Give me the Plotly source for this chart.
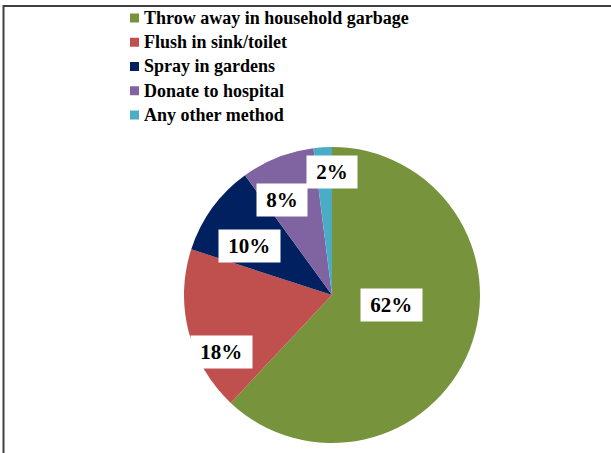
import math
import plotly.graph_objects as go

labels = ["Throw away in household garbage", "Flush in sink/toilet", "Spray in gardens",
          "Donate to hospital", "Any other method"]
values = [62, 18, 10, 8, 2]
colors = ["#77933C", "#C0504D", "#002060", "#8064A2", "#4BACC6"]
# value-label placement: radial fraction of radius, angular fraction within slice
label_r = [0.41, 0.843, 0.651, 0.726, 0.83]
label_a = [0.446, 0.30, 0.35, 0.285, 1.0]

W, H = 611, 453
cx, cy, R = 332, 295, 148  # pie centre and radius in pixels
SERIF = "Times New Roman, Liberation Serif, serif"

fig = go.Figure()
fig.add_trace(go.Pie(
    labels=labels, values=values, sort=False, direction="clockwise", rotation=0,
    marker=dict(colors=colors, line=dict(width=0)),
    textinfo="none", hoverinfo="label+percent", showlegend=False,
    domain=dict(x=[(cx - R) / W, (cx + R) / W], y=[(H - cy - R) / H, (H - cy + R) / H]),
))

total = sum(values)
cum = 0
for v, fr, fa in zip(values, label_r, label_a):
    ang = (cum + v * fa) / total * 2 * math.pi
    cum += v
    px = cx + fr * R * math.sin(ang)
    py = cy - fr * R * math.cos(ang)
    fig.add_annotation(
        x=px / W, y=1 - py / H, xref="paper", yref="paper", showarrow=False,
        xanchor="center", yanchor="middle",
        text=f"\u00a0{round(v / total * 100)}%\u00a0",
        font=dict(family=SERIF, size=21, color="black", weight="bold"),
        bgcolor="white", borderpad=4,
    )

# legend: square swatches and bold serif labels
row0, step = 18, 24.25
for i, (lab, col) in enumerate(zip(labels, colors)):
    y = row0 + i * step
    fig.add_shape(type="rect", xref="paper", yref="paper",
                  x0=130 / W, x1=139 / W, y0=1 - (y + 4.5) / H, y1=1 - (y - 4.5) / H,
                  line=dict(width=0), fillcolor=col)
    fig.add_annotation(x=142 / W, y=1 - y / H, xref="paper", yref="paper", showarrow=False,
                       xanchor="left", yanchor="middle", text=lab,
                       font=dict(family=SERIF, size=18, color="black", weight="bold"))

# chart-area border (top and left visible)
fig.add_shape(type="rect", xref="paper", yref="paper",
              x0=3.5 / W, x1=1.02, y0=-0.02, y1=1 - 6 / H,
              line=dict(color="#404040", width=2), fillcolor="rgba(0,0,0,0)")

fig.update_layout(
    width=W, height=H, margin=dict(l=0, r=0, t=0, b=0),
    paper_bgcolor="white", plot_bgcolor="white", showlegend=False,
)

fig.write_html("out.html", config={"displayModeBar": False},
               post_script="document.body.style.margin='0';document.body.style.overflow='hidden';")
